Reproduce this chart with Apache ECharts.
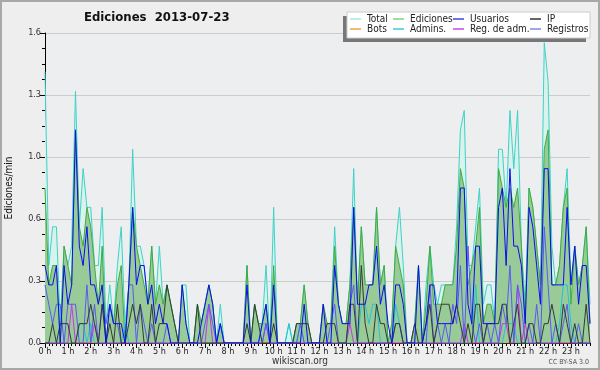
<!DOCTYPE html>
<html><head><meta charset="utf-8">
<script src="https://cdn.jsdelivr.net/npm/echarts@6/dist/echarts.min.js"></script>
<style>html,body{margin:0;padding:0;background:#eeeeee}#c{width:600px;height:370px}</style>
</head><body><div id="c"></div>
<script>
// Tick labels
const hourLabels = ['0 h','1 h','2 h','3 h','4 h','5 h','6 h','7 h','8 h','9 h','10 h','11 h','12 h','13 h','14 h','15 h','16 h','17 h','18 h','19 h','20 h','21 h','22 h','23 h'];
const minuteSlots = ['00','10','20','30','40','50'];
const yTickValues = [0, 0.32, 0.64, 0.96, 1.28, 1.6];
const legendNames = [['Total','Bots'],['Ediciones','Admins.'],['Usuarios','Reg. de adm.'],['IP','Registros']];

// Series values (edits/min, 10-minute slots)
const total = [
1.4,0.4,0.6,0.6,0.1,0.5, 0.4,0.5,1.3,0.6,0.9,0.7, 0.7,0.4,0.4,0.7,0.1,0.3, 0.1,0.4,0.6,0.1,0.3,1.0,
0.5,0.5,0.4,0.2,0.5,0.2, 0.5,0.2,0.3,0.2,0.1,0.0, 0.3,0.3,0.0,0.0,0.2,0.1, 0.2,0.3,0.2,0.0,0.2,0.0,
0.0,0.0,0.0,0.0,0.0,0.4, 0.0,0.2,0.1,0.1,0.4,0.0, 0.7,0.0,0.0,0.0,0.1,0.0, 0.1,0.1,0.3,0.1,0.0,0.0,
0.0,0.2,0.1,0.1,0.6,0.2, 0.1,0.1,0.3,0.9,0.2,0.6, 0.3,0.3,0.3,0.7,0.3,0.4, 0.0,0.1,0.5,0.7,0.4,0.0,
0.0,0.1,0.4,0.0,0.3,0.5, 0.3,0.2,0.3,0.3,0.3,0.3, 0.6,1.1,1.2,0.4,0.4,0.6, 0.8,0.2,0.3,0.3,0.1,1.0,
1.0,0.7,1.2,0.9,1.2,0.5, 0.2,0.8,0.7,0.5,0.3,1.55, 1.35,0.5,0.3,0.4,0.7,0.9, 0.3,0.5,0.3,0.4,0.6,0.2];
const ediciones = [
0.8,0.3,0.4,0.4,0.0,0.5, 0.4,0.3,1.1,0.6,0.5,0.7, 0.6,0.4,0.2,0.5,0.0,0.2, 0.1,0.3,0.4,0.0,0.3,0.7,
0.5,0.4,0.3,0.2,0.5,0.2, 0.3,0.2,0.3,0.2,0.1,0.0, 0.3,0.1,0.0,0.0,0.2,0.1, 0.2,0.3,0.2,0.0,0.1,0.0,
0.0,0.0,0.0,0.0,0.0,0.4, 0.0,0.2,0.1,0.1,0.2,0.0, 0.4,0.0,0.0,0.0,0.0,0.0, 0.1,0.1,0.3,0.1,0.0,0.0,
0.0,0.2,0.1,0.1,0.5,0.2, 0.1,0.1,0.3,0.7,0.2,0.6, 0.3,0.3,0.3,0.7,0.3,0.4, 0.0,0.1,0.5,0.4,0.3,0.0,
0.0,0.1,0.4,0.0,0.2,0.5, 0.2,0.2,0.2,0.3,0.3,0.3, 0.5,0.9,0.8,0.3,0.4,0.5, 0.7,0.1,0.2,0.2,0.1,0.9,
0.8,0.7,0.8,0.7,0.8,0.5, 0.1,0.8,0.7,0.5,0.3,1.0, 1.1,0.3,0.3,0.4,0.7,0.8, 0.2,0.5,0.3,0.4,0.6,0.1];
const usuarios = [
0.4,0.3,0.3,0.4,0.0,0.4, 0.2,0.3,1.1,0.5,0.4,0.6, 0.3,0.3,0.2,0.3,0.0,0.2, 0.1,0.1,0.1,0.0,0.3,0.7,
0.3,0.4,0.4,0.2,0.3,0.1, 0.2,0.1,0.1,0.0,0.0,0.0, 0.3,0.1,0.0,0.0,0.0,0.1, 0.2,0.3,0.2,0.0,0.1,0.0,
0.0,0.0,0.0,0.0,0.0,0.3, 0.0,0.0,0.0,0.1,0.2,0.0, 0.3,0.0,0.0,0.0,0.0,0.0, 0.0,0.0,0.2,0.0,0.0,0.0,
0.0,0.2,0.0,0.0,0.4,0.2, 0.1,0.1,0.1,0.7,0.2,0.2, 0.2,0.3,0.3,0.5,0.2,0.3, 0.1,0.0,0.3,0.3,0.2,0.0,
0.0,0.0,0.4,0.0,0.1,0.3, 0.3,0.1,0.1,0.1,0.1,0.1, 0.2,0.8,0.8,0.2,0.1,0.5, 0.5,0.1,0.1,0.1,0.1,0.7,
0.8,0.4,0.9,0.5,0.5,0.4, 0.1,0.7,0.6,0.4,0.2,0.9, 0.9,0.3,0.3,0.3,0.3,0.7, 0.3,0.5,0.2,0.4,0.4,0.1];
const ip = [
0.0,0.0,0.1,0.0,0.1,0.1, 0.1,0.0,0.0,0.1,0.1,0.1, 0.2,0.1,0.0,0.2,0.0,0.1, 0.0,0.2,0.0,0.0,0.1,0.2,
0.1,0.2,0.0,0.0,0.2,0.0, 0.1,0.1,0.3,0.2,0.1,0.0, 0.0,0.0,0.0,0.0,0.2,0.0, 0.0,0.0,0.0,0.0,0.0,0.0,
0.0,0.0,0.0,0.0,0.0,0.1, 0.0,0.2,0.1,0.0,0.0,0.0, 0.1,0.0,0.0,0.0,0.0,0.0, 0.1,0.1,0.1,0.1,0.0,0.0,
0.0,0.0,0.1,0.1,0.1,0.0, 0.0,0.0,0.2,0.2,0.0,0.4, 0.1,0.0,0.0,0.2,0.1,0.1, 0.0,0.0,0.1,0.1,0.0,0.0,
0.0,0.1,0.0,0.0,0.1,0.2, 0.0,0.1,0.2,0.2,0.2,0.1, 0.2,0.1,0.0,0.1,0.0,0.2, 0.2,0.0,0.1,0.1,0.1,0.1,
0.2,0.2,0.0,0.1,0.2,0.0, 0.0,0.1,0.1,0.0,0.0,0.1, 0.1,0.2,0.1,0.0,0.2,0.1, 0.0,0.1,0.0,0.0,0.2,0.0];
const bots = [
0,0,0,0,0,0, 0,0,0,0,0,0, 0,0,0,0,0,0, 0,0,0,0,0,0,
0,0,0,0,0,0, 0,0,0,0,0,0, 0,0,0,0,0,0, 0,0,0,0,0,0,
0,0,0,0,0,0, 0,0,0,0,0,0, 0,0,0,0,0,0, 0,0,0,0,0,0,
0,0,0,0,0,0, 0,0,0,0,0,0, 0,0,0,0,0,0, 0,0,0,0,0,0,
0,0,0,0,0,0, 0,0,0,0,0,0, 0,0,0,0,0,0, 0,0,0,0,0,0,
0,0,0,0,0,0, 0,0,0,0,0,0, 0,0,0,0,0,0, 0,0,0,0,0,0];
const admins = [
0,0,0,0,0,0, 0,0,0,0.1,0.1,0, 0.1,0,0,0,0,0, 0,0,0,0.1,0,0,
0,0,0,0,0,0, 0,0,0,0,0,0, 0,0,0,0,0,0, 0,0,0,0,0,0,
0,0,0,0,0,0, 0,0,0,0.1,0.1,0, 0,0,0,0,0.1,0, 0,0.1,0,0,0,0,
0,0,0,0,0,0, 0,0,0,0,0,0.2, 0.2,0.1,0.2,0.2,0,0, 0,0,0.2,0.1,0,0,
0,0,0,0,0,0, 0,0,0,0,0,0, 0,0,0,0,0,0.3, 0,0,0,0,0,0,
0,0.1,0.1,0.1,0,0, 0,0,0,0,0,0, 0,0,0,0.1,0.3,0.3, 0.1,0,0,0,0,0];
const regAdm = [
0,0,0,0,0,0, 0,0.2,0,0,0,0, 0,0.1,0,0,0,0, 0,0,0,0,0,0,
0,0,0,0,0,0, 0,0,0,0,0,0, 0,0,0,0,0,0, 0,0.2,0,0,0,0,
0,0,0,0,0,0, 0,0,0,0,0.1,0, 0,0,0,0,0,0, 0,0,0,0,0,0,
0,0,0,0,0,0, 0,0,0.1,0,0,0, 0,0,0,0,0,0, 0,0,0,0,0,0,
0,0,0,0,0,0, 0,0,0,0,0,0, 0,0,0.1,0,0,0, 0,0,0,0,0,0,
0.1,0.1,0,0,0.3,0, 0.1,0,0,0,0,0, 0,0,0,0,0,0, 0,0,0,0,0,0];
const registros = [
0.3,0.2,0.1,0.2,0.2,0.0, 0.2,0.2,0.2,0.0,0.0,0.3, 0.0,0.2,0.0,0.2,0.1,0.2, 0.1,0.1,0.0,0.0,0.3,0.3,
0.0,0.2,0.1,0.0,0.1,0.0, 0.0,0.0,0.1,0.0,0.0,0.0, 0.0,0.0,0.0,0.0,0.0,0.0, 0.1,0.2,0.1,0.0,0.1,0.0,
0.0,0.0,0.0,0.0,0.0,0.0, 0.0,0.0,0.0,0.0,0.1,0.0, 0.0,0.0,0.0,0.0,0.0,0.0, 0.0,0.1,0.0,0.0,0.0,0.0,
0.0,0.0,0.0,0.1,0.2,0.0, 0.0,0.0,0.2,0.3,0.0,0.0, 0.0,0.0,0.0,0.0,0.0,0.0, 0.0,0.0,0.1,0.1,0.0,0.0,
0.0,0.0,0.0,0.0,0.0,0.3, 0.0,0.1,0.0,0.1,0.0,0.2, 0.1,0.4,0.0,0.5,0.1,0.0, 0.1,0.0,0.1,0.0,0.1,0.0,
0.2,0.1,0.4,0.0,0.3,0.2, 0.0,0.1,0.0,0.2,0.0,0.6, 0.3,0.0,0.1,0.0,0.1,0.2, 0.0,0.0,0.1,0.0,0.0,0.0];

const categories = [];
hourLabels.forEach(h => minuteSlots.forEach(m => categories.push(h.replace(' h','') + ':' + m)));

const FONT = '"DejaVu Sans Condensed", "DejaVu Sans", sans-serif';
const chart = echarts.init(document.getElementById('c'), null, {renderer: 'canvas'});

const seriesDefs = [
  {name: 'Total', data: total, color: '#3ed2c6', legendColor: '#a6e6e0', area: '#d8f2ec', z: 2},
  {name: 'Ediciones', data: ediciones, color: '#3fab3f', legendColor: '#88cc88', area: '#98cb98', z: 3},
  {name: 'Bots', data: bots, color: '#ff9933', legendColor: '#f4a040', z: 4},
  {name: 'Admins.', data: admins, color: '#22c4d6', legendColor: '#44c8dc', z: 5},
  {name: 'Reg. de adm.', data: regAdm, color: '#cc33ee', legendColor: '#cc44e0', z: 6},
  {name: 'Registros', data: registros, color: '#5a5af2', legendColor: '#8484ec', z: 7},
  {name: 'IP', data: ip, color: '#333a33', legendColor: '#333333', z: 8},
  {name: 'Usuarios', data: usuarios, color: '#0c0cf0', legendColor: '#4444dd', z: 9}
];
const colorOf = {};
seriesDefs.forEach(s => colorOf[s.name] = s.legendColor);

const legendLefts = [350, 393, 453, 530];

chart.setOption({
  animation: false,
  backgroundColor: '#eeeeee',
  textStyle: {fontFamily: FONT},
  title: {
    text: 'Ediciones  2013-07-23', left: 84, top: 11, padding: 0,
    textStyle: {fontSize: 13, fontWeight: 'bold', fontFamily: FONT, color: '#111'}
  },
  grid: {left: 45, right: 10, top: 33, bottom: 27, show: true, backgroundColor: '#eceef0', borderWidth: 0,
    containLabel: false, outerBoundsMode: 'none'},
  legend: legendNames.map((names, c) => ({
    orient: 'vertical', left: legendLefts[c], top: 14, padding: 0, z: 30,
    itemWidth: 11, itemHeight: 1.5, itemGap: 0, icon: 'rect', selectedMode: false,
    textStyle: {fontSize: 10, lineHeight: 10, fontFamily: FONT, color: '#222', padding: [0, 0, 0, 1]},
    data: names.map(n => ({name: n, itemStyle: {color: colorOf[n], borderWidth: 0}}))
  })),
  xAxis: [{
    type: 'category', data: categories, boundaryGap: false,
    axisLine: {show: true, lineStyle: {color: '#000', width: 1}},
    axisTick: {show: true, interval: 0, length: 3, lineStyle: {color: '#000'}},
    axisLabel: {
      interval: (i) => i % 6 === 0, fontSize: 9, color: '#222', margin: 4, fontFamily: FONT,
      formatter: (v, i) => hourLabels[Math.floor(i / 6)]
    },
    splitLine: {show: false}
  }, {
    type: 'category', data: categories, boundaryGap: false, position: 'bottom',
    axisLine: {show: false}, axisLabel: {show: false},
    axisTick: {show: true, interval: (i) => i % 6 === 0, length: 5, lineStyle: {color: '#000'}},
    splitLine: {show: false}
  }],
  yAxis: {
    type: 'value', min: 0, max: 1.6, interval: 0.32,
    name: 'Ediciones/min', nameLocation: 'middle', nameRotate: 90, nameGap: 31,
    nameTextStyle: {fontSize: 10, color: '#111', fontFamily: FONT},
    axisLine: {show: true, lineStyle: {color: '#000', width: 1}},
    axisTick: {show: true, length: 5, lineStyle: {color: '#000'}},
    minorTick: {show: true, splitNumber: 4, length: 3, lineStyle: {color: '#000'}},
    axisLabel: {fontSize: 9, color: '#333', margin: 4, fontFamily: FONT,
      formatter: v => (yTickValues.some(t => Math.abs(t - v) < 1e-6) ? v.toFixed(1) : '')},
    splitLine: {show: true, lineStyle: {color: '#cccccc', width: 1}}
  },
  graphic: [
    {type: 'rect', z: 0, silent: true, shape: {x: 1, y: 1, width: 598, height: 368},
      style: {fill: null, stroke: '#a8a8a8', lineWidth: 2}},
    {type: 'rect', z: 10, silent: true, shape: {x: 343, y: 16, width: 243, height: 26},
      style: {fill: '#777777'}},
    {type: 'rect', z: 11, silent: true, shape: {x: 347, y: 12, width: 243, height: 26},
      style: {fill: '#ffffff', stroke: '#cccccc', lineWidth: 1}},
    {type: 'text', z: 11, silent: true, x: 300, y: 361,
      style: {text: 'wikiscan.org', fontSize: 10, fontFamily: FONT, fill: '#333', align: 'center', verticalAlign: 'middle'}},
    {type: 'text', z: 11, silent: true, x: 589, y: 362,
      style: {text: 'CC BY-SA 3.0', fontSize: 7, fontFamily: FONT, fill: '#555', align: 'right', verticalAlign: 'middle'}}
  ],
  series: seriesDefs.map(s => ({
    name: s.name, type: 'line', data: s.data, showSymbol: false, symbol: 'none',
    z: s.z, lineStyle: {color: s.color, width: 1}, itemStyle: {color: s.color},
    areaStyle: s.area ? {color: s.area, opacity: 1} : undefined,
    emphasis: {disabled: true}
  }))
});
</script></body></html>
